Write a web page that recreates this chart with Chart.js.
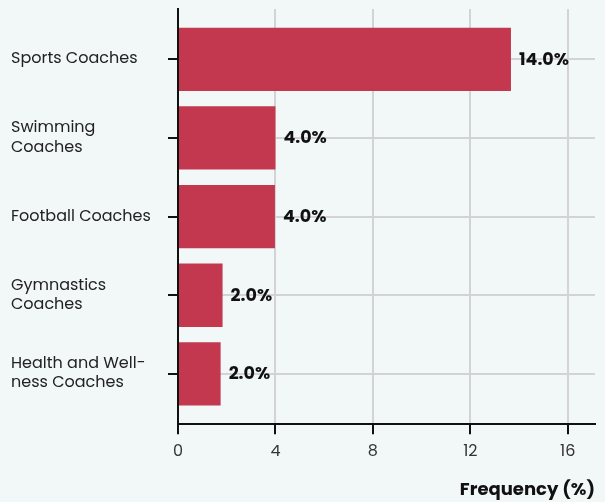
<!DOCTYPE html>
<html>
<head>
<meta charset="utf-8">
<script src="https://cdn.jsdelivr.net/npm/chart.js@4/dist/chart.umd.min.js"></script>
<style>
html,body{margin:0;padding:0;background:#f1f8f7;}
#wrap{width:605px;height:502px;position:relative;}
</style>
</head>
<body>
<div id="wrap"><canvas id="c" width="605" height="502"></canvas></div>
<script>
const categories = [
  ["Sports Coaches"],
  ["Swimming", "Coaches"],
  ["Football Coaches"],
  ["Gymnastics", "Coaches"],
  ["Health and Well-", "ness Coaches"]
];
const barValues = [13.67, 4.0, 3.98, 1.83, 1.75];
const valueLabels = ["14.0%", "4.0%", "4.0%", "2.0%", "2.0%"];
const xTicks = [0, 4, 8, 12, 16];

const FONT = "Poppins, Inter, 'Open Sans', sans-serif";

const valueLabelPlugin = {
  id: 'valueLabels',
  afterDatasetsDraw(chart) {
    const ctx = chart.ctx;
    const meta = chart.getDatasetMeta(0);
    ctx.save();
    ctx.font = "bold 17.5px " + FONT;
    ctx.fillStyle = "#111";
    ctx.textAlign = "left";
    ctx.textBaseline = "middle";
    meta.data.forEach((bar, i) => {
      ctx.fillText(valueLabels[i], bar.x + 8, bar.y + 1);
    });
    ctx.restore();
  }
};

new Chart(document.getElementById('c'), {
  type: 'bar',
  data: {
    datasets: [{
      data: barValues.map((v, i) => ({x: v, y: i})),
      backgroundColor: '#c3384e',
      borderWidth: 0,
      barPercentage: 1.0,
      categoryPercentage: 0.805
    }]
  },
  plugins: [valueLabelPlugin],
  options: {
    indexAxis: 'y',
    responsive: false,
    animation: false,
    layout: {padding: {left: 11, right: 10, top: 9, bottom: 1}},
    plugins: {legend: {display: false}, tooltip: {enabled: false}},
    scales: {
      y: {
        type: 'linear',
        bounds: 'data',
        offset: false,
        reverse: true,
        min: -0.64,
        max: 4.64,
        afterFit(scale) { scale.width = 167; scale.paddingTop = 0; scale.paddingBottom = 0; },
        afterBuildTicks(scale) { scale.ticks = categories.map((c, i) => ({value: i})); },
        ticks: {
          includeBounds: false,
          crossAlign: 'far',
          padding: 8,
          color: '#222',
          font: {family: FONT, size: 16},
          callback: (v) => categories[v]
        },
        grid: {
          offset: false,
          color: '#d3d3d3',
          lineWidth: 2,
          tickColor: '#111',
          tickLength: 10,
          tickWidth: 2
        },
        border: {color: '#111', width: 2}
      },
      x: {
        type: 'linear',
        bounds: 'data',
        min: 0,
        max: 17.12,
        afterBuildTicks(scale) { scale.ticks = xTicks.map(v => ({value: v})); },
        ticks: {
          includeBounds: false,
          padding: 8,
          color: '#333',
          font: {family: FONT, size: 16}
        },
        grid: {
          color: '#d3d3d3',
          lineWidth: 2,
          tickColor: '#111',
          tickLength: 10,
          tickWidth: 2
        },
        border: {color: '#111', width: 2},
        title: {
          display: true,
          text: 'Frequency (%)',
          align: 'end',
          color: '#111',
          font: {family: FONT, size: 18, weight: 'bold'},
          padding: {top: 10, bottom: 0}
        }
      }
    }
  }
});
</script>
</body>
</html>
